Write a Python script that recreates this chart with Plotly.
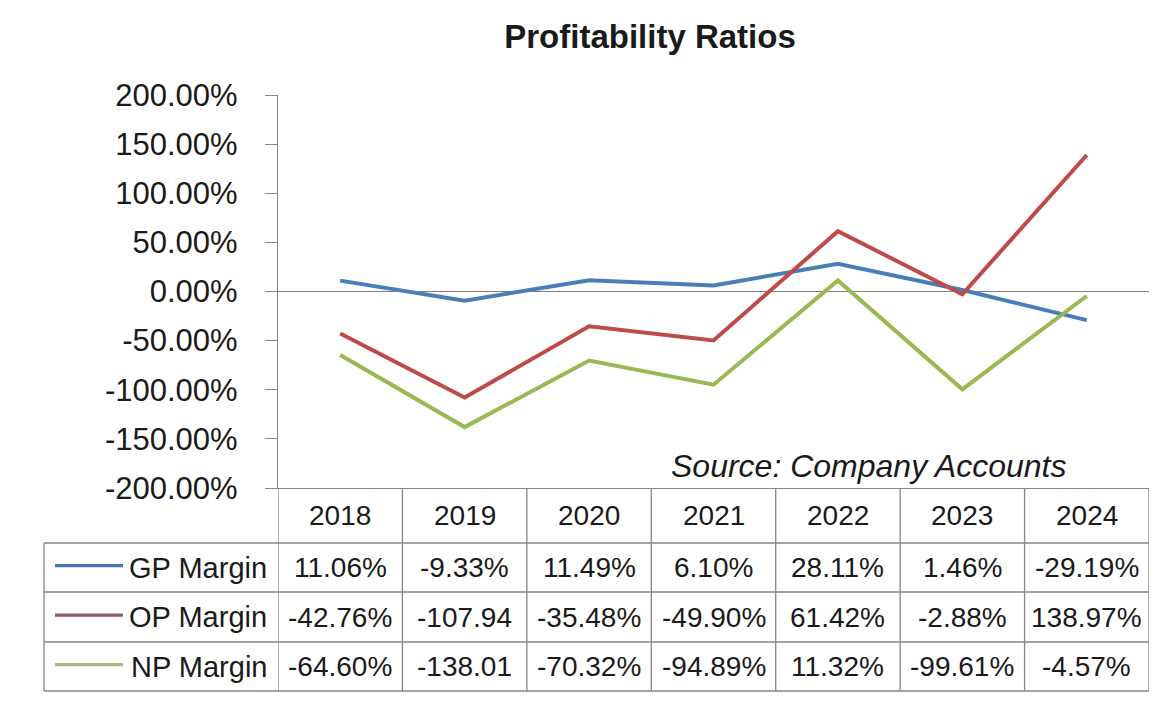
import plotly.graph_objects as go

years = ["2018", "2019", "2020", "2021", "2022", "2023", "2024"]
series_names = ["GP Margin", "OP Margin", "NP Margin"]
gp_margin = [11.06, -9.33, 11.49, 6.10, 28.11, 1.46, -29.19]
op_margin = [-42.76, -107.94, -35.48, -49.90, 61.42, -2.88, 138.97]
np_margin = [-64.60, -138.01, -70.32, -94.89, 11.32, -99.61, -4.57]
y_ticks = [-200, -150, -100, -50, 0, 50, 100, 150, 200]

series_values = [gp_margin, op_margin, np_margin]
line_colors = ["#4A7EBB", "#BE4B48", "#98B954"]
key_colors = ["#4A76B6", "#8C5A68", "#A8B87E"]

FONT = "Liberation Sans, Arial, sans-serif"
TXT = "#1a1a1a"
GRID = "#868686"

# page offset caused by the default body margin of the html page
OFF = 8
W, H = 1170 - 2 * OFF, 705 - 2 * OFF
L, R, T, B = 278 - OFF, 1149 - OFF, 95 - OFF, 488 - OFF
PH = B - T


def py(pix):
    # page pixel y -> paper y
    return (B - (pix - OFF)) / PH


def px(pix):
    return ((pix - OFF) - L) / (R - L)


xs = list(range(len(years)))
fig = go.Figure()
for name, vals, col in zip(series_names, series_values, line_colors):
    fig.add_trace(go.Scatter(x=xs, y=vals, mode="lines", name=name,
                             line=dict(color=col, width=4), showlegend=False))

shapes = []
annotations = []

row_edges = [488, 543, 592, 642, 691]
left_edge = 44
BW = 1.3

shapes.append(dict(type="line", xref="paper", yref="paper", x0=px(left_edge), x1=1,
                   y0=py(row_edges[1]), y1=py(row_edges[1]), line=dict(color=GRID, width=BW)))
for e in row_edges[2:]:
    shapes.append(dict(type="line", xref="paper", yref="paper", x0=px(left_edge), x1=1,
                       y0=py(e), y1=py(e), line=dict(color=GRID, width=BW)))
for k in range(len(years) + 1):
    shapes.append(dict(type="line", xref="x", yref="paper", x0=k - 0.5, x1=k - 0.5,
                       y0=py(row_edges[0]), y1=py(row_edges[-1]), line=dict(color=GRID, width=BW)))
shapes.append(dict(type="line", xref="paper", yref="paper", x0=px(left_edge), x1=px(left_edge),
                   y0=py(row_edges[1]), y1=py(row_edges[-1]), line=dict(color=GRID, width=BW)))

hdr_y = py((row_edges[0] + row_edges[1]) / 2)
for i, yr in enumerate(years):
    annotations.append(dict(x=i, y=hdr_y, xref="x", yref="paper", text=yr, showarrow=False,
                            font=dict(family=FONT, size=28, color=TXT), xanchor="center", yanchor="middle"))

for r, (name, vals, kc) in enumerate(zip(series_names, series_values, key_colors)):
    yc = py((row_edges[r + 1] + row_edges[r + 2]) / 2)
    for i, v in enumerate(vals):
        label = f"{v:.2f}%"[:7]
        annotations.append(dict(x=i, y=yc, xref="x", yref="paper", text=label, showarrow=False,
                                font=dict(family=FONT, size=28, color=TXT), xanchor="center", yanchor="middle"))
    annotations.append(dict(x=px(269), y=yc, xref="paper", yref="paper", text=name, showarrow=False,
                            font=dict(family=FONT, size=29, color=TXT), xanchor="right", yanchor="middle"))
    shapes.append(dict(type="line", xref="paper", yref="paper", x0=px(55), x1=px(123),
                       y0=yc + 0.005, y1=yc + 0.005, line=dict(color=kc, width=3.2)))

annotations.append(dict(x=px(868), y=py(466), xref="paper", yref="paper",
                        text="<i>Source: Company Accounts</i>", showarrow=False,
                        font=dict(family=FONT, size=32, color=TXT), xanchor="center", yanchor="middle"))

fig.update_layout(
    width=W, height=H,
    margin=dict(l=L, r=W - R, t=T, b=H - B, pad=0),
    paper_bgcolor="white", plot_bgcolor="white",
    title=dict(text="<b>Profitability Ratios</b>", x=(650 - OFF) / W, xanchor="center",
               y=1 - (36 - OFF) / H, yanchor="middle", xref="container", yref="container",
               font=dict(family=FONT, size=33, color=TXT)),
    shapes=shapes, annotations=annotations,
    showlegend=False,
)
fig.update_xaxes(range=[-0.5, len(years) - 0.5], showticklabels=False, ticks="",
                 showgrid=False, zeroline=False, showline=True, linecolor=GRID, linewidth=BW)
fig.update_yaxes(range=[y_ticks[0], y_ticks[-1]], tickvals=y_ticks,
                 ticktext=[f"{v:.2f}%" for v in y_ticks],
                 showgrid=False, zeroline=True, zerolinecolor="#7f7f7f", zerolinewidth=BW,
                 showline=True, linecolor=GRID, linewidth=BW,
                 ticks="outside", ticklen=12, tickcolor=GRID, tickwidth=BW,
                 ticklabelstandoff=21,
                 tickfont=dict(family=FONT, size=31, color=TXT))

fig.write_html("out.html")
